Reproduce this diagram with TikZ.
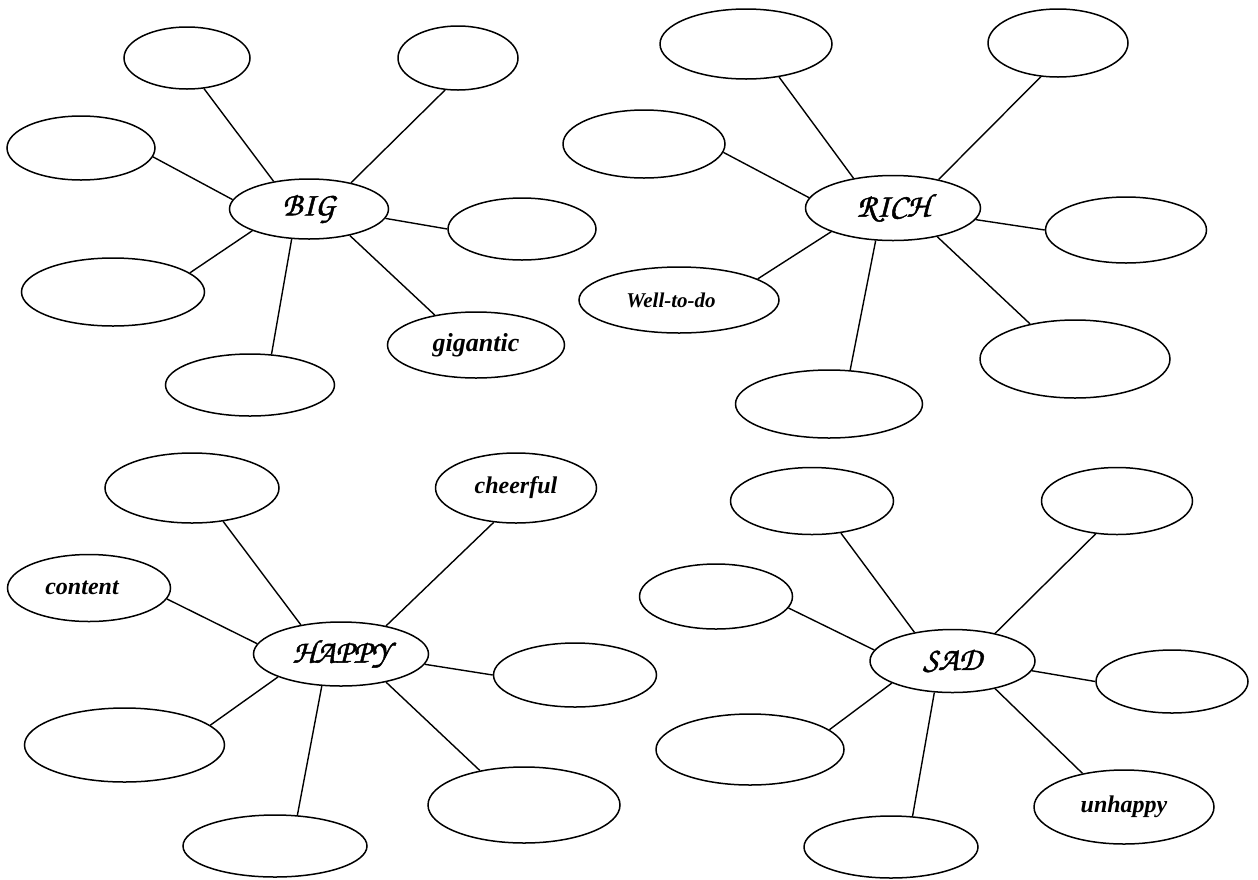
\documentclass[tikz,border=0pt]{standalone}
\usepackage{fontspec}
\setmainfont{Liberation Serif}
\newfontfamily\chorus[FakeBold=1.5]{TeX Gyre Chorus}
\usetikzlibrary{shapes.geometric}
\tikzset{
  bub/.style={ellipse, draw, line width=1.5pt, inner sep=0pt,
    font=\bfseries\itshape\fontsize{24}{28}\selectfont},
  hub/.style={ellipse, draw, line width=1.5pt, inner sep=0pt,
    font=\chorus\fontsize{33}{36}\selectfont},
  link/.style={line width=1.4pt}
}
\begin{document}
\begin{tikzpicture}[x=1pt,y=-1pt]
\useasboundingbox (0,0) rectangle (1258,879);
% ---------- BIG ----------
\node[hub, minimum width=159pt, minimum height=60pt] (big) at (309,209) {BIG};
\node[bub, minimum width=126pt, minimum height=62pt] (b1) at (187,58) {};
\node[bub, minimum width=120pt, minimum height=64pt] (b2) at (458,58) {};
\node[bub, minimum width=148pt, minimum height=64pt] (b3) at (81,148) {};
\node[bub, minimum width=148pt, minimum height=62pt] (b4) at (522,229) {};
\node[bub, minimum width=183pt, minimum height=68pt] (b5) at (113,292) {};
\node[bub, minimum width=169pt, minimum height=62pt] (b6) at (250,385) {};
\node[bub, minimum width=177pt, minimum height=66pt, font=\bfseries\itshape\fontsize{26}{30}\selectfont] (b7) at (476,345) {gigantic};
\draw[link] (big.142) -- (b1.-61);
\draw[link] (big.32) -- (b2.-112);
\draw[link] (big.173) -- (b3.-7);
\draw[link] (big.-7) -- (b4.180);
\draw[link] (big.201) -- (b5.14);
\draw[link] (big.240) -- (b6.55);
\draw[link] (big.-33) -- (b7.144);
% ---------- RICH ----------
\node[hub, minimum width=175pt, minimum height=65pt] (rich) at (893,208) {RICH};
\node[bub, minimum width=172pt, minimum height=70pt] (r1) at (746,44) {};
\node[bub, minimum width=140pt, minimum height=68pt] (r2) at (1058,43) {};
\node[bub, minimum width=162pt, minimum height=68pt] (r3) at (644,144) {};
\node[bub, minimum width=161pt, minimum height=66pt] (r4) at (1126,230) {};
\node[bub, minimum width=200pt, minimum height=66pt, font=\bfseries\itshape\fontsize{21}{24}\selectfont] (r5) at (679,300) {Well-to-do\hspace*{16pt}};
\node[bub, minimum width=187pt, minimum height=68pt] (r6) at (829,404) {};
\node[bub, minimum width=190pt, minimum height=78pt] (r7) at (1075,359) {};
\draw[link] (rich.143) -- (r1.-45);
\draw[link] (rich.32) -- (r2.-117);
\draw[link] (rich.173) -- (r3.-6);
\draw[link] (rich.-8) -- (r4.180);
\draw[link] (rich.201) -- (r5.15);
\draw[link] (rich.242) -- (r6.58);
\draw[link] (rich.-33) -- (r7.142);
% ---------- HAPPY ----------
\node[hub, minimum width=175pt, minimum height=64pt] (happy) at (341,654) {HAPPY};
\node[bub, minimum width=174pt, minimum height=70pt] (h1) at (192,488) {};
\node[bub, minimum width=161pt, minimum height=70pt] (h2) at (516,488) {cheerful};
\node[bub, minimum width=163pt, minimum height=67pt] (h3) at (89,588) {content\hspace*{14pt}};
\node[bub, minimum width=163pt, minimum height=64pt] (h4) at (575,675) {};
\node[bub, minimum width=200pt, minimum height=74pt] (h5) at (124.5,745) {};
\node[bub, minimum width=192pt, minimum height=76pt] (h6) at (524,805) {};
\node[bub, minimum width=184pt, minimum height=62pt] (h7) at (275,846) {};
\draw[link] (happy.144) -- (h1.-47);
\draw[link] (happy.32) -- (h2.-123);
\draw[link] (happy.173) -- (h3.-8);
\draw[link] (happy.-7) -- (h4.180);
\draw[link] (happy.200) -- (h5.13);
\draw[link] (happy.239) -- (h7.54);
\draw[link] (happy.-32) -- (h6.142);
% ---------- SAD ----------
\node[hub, minimum width=165pt, minimum height=63pt] (sad) at (952.5,661) {SAD};
\node[bub, minimum width=163pt, minimum height=67pt] (s1) at (812,501) {};
\node[bub, minimum width=151pt, minimum height=67pt] (s2) at (1117,501) {};
\node[bub, minimum width=153pt, minimum height=65pt] (s3) at (716,596.5) {};
\node[bub, minimum width=152pt, minimum height=63pt] (s4) at (1172,681.5) {};
\node[bub, minimum width=188pt, minimum height=71pt] (s5) at (750,749.5) {};
\node[bub, minimum width=180pt, minimum height=74pt] (s6) at (1124,807) {unhappy};
\node[bub, minimum width=174pt, minimum height=62pt] (s7) at (891,847) {};
\draw[link] (sad.143) -- (s1.-48);
\draw[link] (sad.33) -- (s2.-123);
\draw[link] (sad.172) -- (s3.-9);
\draw[link] (sad.-7) -- (s4.180);
\draw[link] (sad.200) -- (s5.14);
\draw[link] (sad.240) -- (s7.55);
\draw[link] (sad.-33) -- (s6.141);
\end{tikzpicture}
\end{document}
